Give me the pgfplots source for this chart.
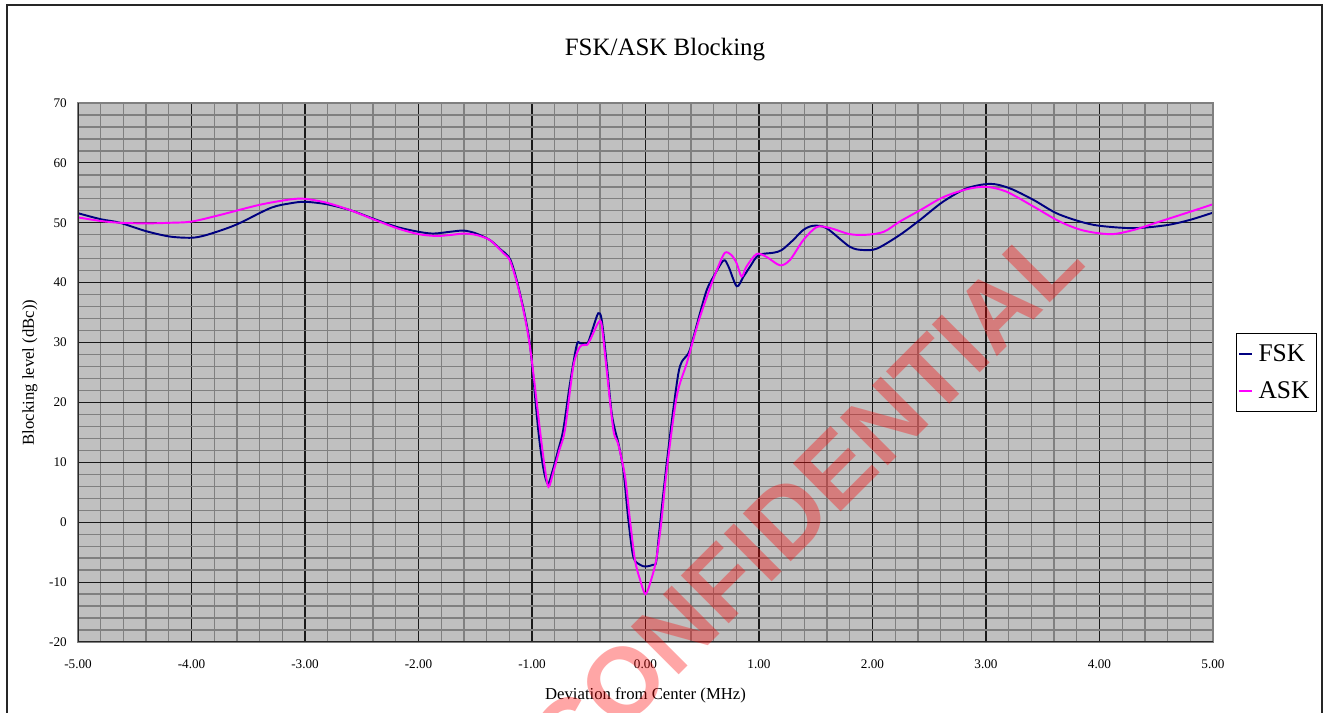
\documentclass[border=0pt]{standalone}
\usepackage{pgfplots}
\pgfplotsset{compat=1.18}
\usepackage{fontspec}
\setmainfont{Liberation Serif}
\newfontfamily\wmfont{Liberation Sans}
\definecolor{bgc}{HTML}{C0C0C0}
\definecolor{majgrid}{HTML}{1A1A1A}
\definecolor{mingrid}{HTML}{808080}
\definecolor{fsk}{HTML}{000080}
\definecolor{ask}{HTML}{FF00FF}
\begin{document}
\begin{tikzpicture}
\path[use as bounding box] (0,0) rectangle (26.52cm,14.26cm);
\begin{axis}[
  scale only axis, width=22.7cm, height=10.78cm,
  at={(1.56cm,1.42cm)}, anchor=south west,
  xmin=-5, xmax=5, ymin=-20, ymax=70,
  xtick={-5,-4,-3,-2,-1,0,1,2,3,4,5},
  xticklabels={-5.00,-4.00,-3.00,-2.00,-1.00,0.00,1.00,2.00,3.00,4.00,5.00},
  ytick={-20,-10,0,10,20,30,40,50,60,70},
  yticklabels={-20,-10,0,10,20,30,40,50,60,70},
  minor x tick num=4, minor y tick num=4,
  grid=both,
  major grid style={draw=majgrid, line width=0.6pt},
  minor grid style={draw=mingrid, line width=0.75pt},
  axis background/.style={fill=bgc},
  tick style={draw=none},
  axis line style={draw=mingrid, line width=1pt},
  tick label style={font=\fontsize{7.5}{9}\selectfont},
  xticklabel style={yshift=-0.23cm},
  yticklabel style={xshift=-0.1cm},
  xlabel={Deviation from Center (MHz)},
  ylabel={Blocking level (dBc))},
  label style={font=\fontsize{9.5}{11}\selectfont},
  xlabel style={at={(axis description cs:0.5,-0.0985)}, anchor=center},
  ylabel style={at={(axis description cs:-0.0423,0.5)}, anchor=center},
  legend style={at={(1.0203,0.573)}, anchor=north west, draw=black, line width=0.6pt,
    fill=white, font=\fontsize{14.5}{16}\selectfont, inner xsep=1pt, inner ysep=4pt,
    row sep=6pt, cells={anchor=west}, nodes={inner xsep=3pt}},
  legend image code/.code={\draw[#1, line width=1.1pt] (0.08cm,0cm) -- (0.34cm,0cm);},
]
\addplot[fsk, line width=1.1pt, smooth, tension=0.5] coordinates {
(-5.0,51.6) (-4.8,50.6) (-4.63,50.0) (-4.4,48.6) (-4.19,47.7) (-4.0,47.5) (-3.88,47.9)
(-3.7,49.0) (-3.57,50.0) (-3.3,52.5) (-3.13,53.25) (-3.0,53.5) (-2.81,53.1) (-2.6,52.1)
(-2.4,50.7) (-2.19,49.3) (-2.0,48.5) (-1.87,48.2) (-1.72,48.5) (-1.6,48.7) (-1.49,48.2)
(-1.37,47.1) (-1.28,45.6) (-1.19,43.8) (-1.106,38.2) (-1.02,29.9) (-0.945,15.4) (-0.9,9.0)
(-0.86,6.4) (-0.82,8.5) (-0.77,12.0) (-0.725,15.4) (-0.665,23.2) (-0.606,29.6) (-0.577,29.9)
(-0.533,29.7) (-0.504,30.1) (-0.46,32.6) (-0.416,34.9) (-0.386,33.8) (-0.342,26.5) (-0.30,18.5)
(-0.269,15.4) (-0.239,13.2) (-0.195,8.7) (-0.151,0.4) (-0.107,-5.8) (-0.048,-7.1) (0.0,-7.4)
(0.068,-7.1) (0.094,-6.6) (0.123,-1.3) (0.181,8.9) (0.246,19.0) (0.29,24.9) (0.32,26.8)
(0.378,28.2) (0.408,29.9) (0.48,34.9) (0.54,38.8) (0.599,41.0) (0.687,43.7) (0.731,42.7)
(0.804,39.4) (0.863,41.0) (0.922,42.7) (0.996,44.6) (1.128,45.0) (1.2,45.45) (1.3,47.1)
(1.39,48.8) (1.478,49.5) (1.595,49.1) (1.8,46.0) (1.92,45.45) (2.04,45.7) (2.24,47.96)
(2.42,50.5) (2.62,53.5) (2.83,55.75) (3.04,56.5) (3.21,55.75) (3.42,53.8) (3.62,51.6)
(3.83,50.2) (4.0,49.5) (4.3,49.1) (4.59,49.6) (4.8,50.5) (5.0,51.7)
};
\addlegendentry{FSK}
\addplot[ask, line width=1.1pt, smooth, tension=0.5] coordinates {
(-5.0,50.9) (-4.8,50.3) (-4.63,50.0) (-4.4,49.9) (-4.19,50.0) (-4.0,50.2) (-3.75,51.3)
(-3.4,53.0) (-3.13,53.9) (-3.0,54.0) (-2.81,53.35) (-2.6,52.1) (-2.4,50.6) (-2.19,49.1)
(-2.0,48.1) (-1.84,47.8) (-1.72,47.96) (-1.6,48.2) (-1.49,47.96) (-1.37,47.1) (-1.25,44.9)
(-1.19,43.5) (-1.106,38.0) (-1.02,29.6) (-0.93,15.4) (-0.89,9.5) (-0.855,5.9) (-0.81,8.5)
(-0.76,12.0) (-0.71,15.4) (-0.636,26.0) (-0.577,29.3) (-0.518,29.6) (-0.489,30.4)
(-0.416,33.3) (-0.386,32.9) (-0.342,25.4) (-0.283,15.4) (-0.24,13.0) (-0.18,7.6)
(-0.137,0.4) (-0.093,-6.3) (-0.048,-9.6) (0.0,-12.0) (0.05,-9.6) (0.094,-6.3) (0.138,-0.2)
(0.187,8.7) (0.275,21.0) (0.363,26.5) (0.42,30.4) (0.48,34.3) (0.568,39.1) (0.641,42.7)
(0.7,45.0) (0.758,44.6) (0.804,43.2) (0.847,41.0) (0.89,42.7) (0.98,44.8) (1.067,44.3)
(1.185,42.9) (1.273,43.8) (1.39,47.1) (1.51,49.3) (1.63,49.1) (1.80,48.1) (1.95,48.0)
(2.1,48.5) (2.24,50.2) (2.42,52.1) (2.62,54.25) (2.83,55.6) (3.0,56.0) (3.18,55.2)
(3.42,52.7) (3.65,50.2) (3.86,48.7) (4.1,48.1) (4.3,48.8) (4.53,50.2) (4.8,51.85) (5.0,53.1)
};
\addlegendentry{ASK}
\draw[mingrid, line width=1.1pt] (rel axis cs:0,1) -- (rel axis cs:1,1) -- (rel axis cs:1,0);
\draw[black!85, line width=1.1pt] (rel axis cs:0,1) -- (rel axis cs:0,0) -- (rel axis cs:1,0);
\end{axis}
\node[font=\fontsize{14.2}{16}\selectfont] at (13.3cm,13.26cm) {FSK/ASK Blocking};
\node[overlay, rotate=45, text=red, opacity=0.35, font=\wmfont\bfseries\fontsize{56}{60}\selectfont] at (16.1cm,4.25cm) {CONFIDENTIAL};
\draw[black!85, line width=1.2pt] (0.14cm,-1cm) -- (0.14cm,14.16cm) -- (26.44cm,14.16cm) -- (26.44cm,-1cm);
\end{tikzpicture}
\end{document}
